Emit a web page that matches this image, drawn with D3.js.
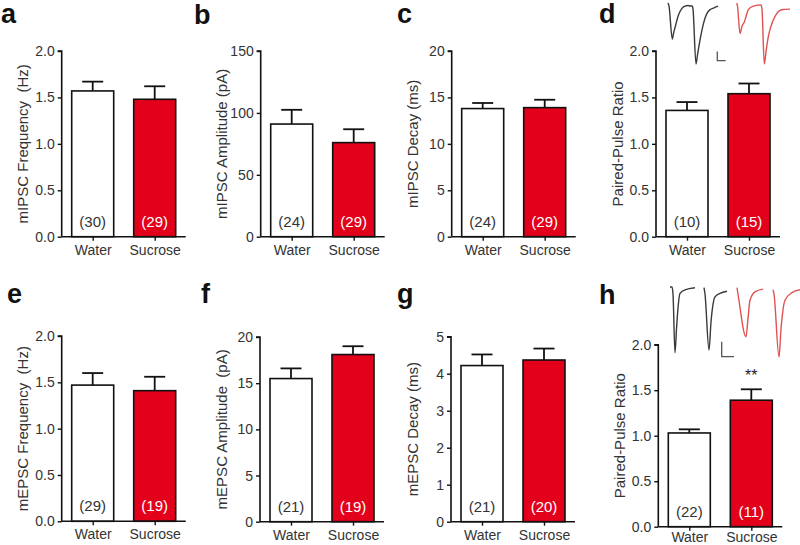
<!DOCTYPE html>
<html><head><meta charset="utf-8">
<script src="https://cdn.jsdelivr.net/npm/d3@7"></script>
<style>body{margin:0;background:#fff}svg{display:block}text{font-family:Arial,"Liberation Sans",sans-serif;white-space:pre}</style>
</head><body>
<svg id="c" width="800" height="545"></svg>
<script>
// ---------- data ----------
const groups = ["Water", "Sucrose"];
const panelLabels = ["a", "b", "c", "d", "e", "f", "g", "h"];
const yTitles = ["mIPSC Frequency  (Hz)", "mIPSC Amplitude (pA)", "mIPSC Decay (ms)", "Paired-Pulse Ratio",
                 "mEPSC Frequency  (Hz)", "mEPSC Amplitude  (pA)", "mEPSC Decay (ms)", "Paired-Pulse Ratio"];
const means = [[1.57, 1.48], [91, 76], [13.8, 13.9], [1.36, 1.54],
               [1.47, 1.41], [15.5, 18.1], [4.22, 4.37], [1.03, 1.39]];
const sems  = [[0.10, 0.14], [11.5, 10.8], [0.6, 0.85], [0.09, 0.11],
               [0.13, 0.15], [1.1, 0.9], [0.30, 0.31], [0.04, 0.12]];
const nCells = [[30, 29], [24, 29], [24, 29], [10, 15], [29, 19], [21, 19], [21, 20], [22, 11]];
const yMax = [2, 150, 20, 2, 2, 20, 5, 2];
const yTicks = [[0, 0.5, 1, 1.5, 2], [0, 50, 100, 150], [0, 5, 10, 15, 20], [0, 0.5, 1, 1.5, 2],
                [0, 0.5, 1, 1.5, 2], [0, 5, 10, 15, 20], [0, 1, 2, 3, 4, 5], [0, 0.5, 1, 1.5, 2]];
const tickDecimals = [1, 0, 0, 1, 1, 0, 0, 1];
const significance = [["", ""], ["", ""], ["", ""], ["", ""], ["", ""], ["", ""], ["", ""], ["", "**"]];

// example traces: [time (a.u.), normalized current]
const traceD_water = [[2,0],[3,-0.05],[6.3,-0.59],[7.5,-0.5],[9.7,-0.36],[12,-0.22],[14,-0.14],[17,-0.07],[19,-0.05],[22,-0.04],
  [24,-0.05],[26.3,-0.05],[27,-0.1],[30,-1.0],[31.5,-0.85],[34,-0.61],[36,-0.44],[39,-0.25],[41,-0.17],[44,-0.11],[48,-0.08],[52,-0.05]];
const traceD_sucrose = [[70.7,0],[71.5,-0.05],[74,-0.5],[76,-0.38],[78.3,-0.31],[80,-0.22],[82.3,-0.11],[87.3,-0.05],
  [95,-0.03],[96,-0.1],[98.3,-1.0],[100,-0.8],[102.3,-0.55],[105,-0.38],[109,-0.22],[115.7,-0.11],[124,-0.1]];
const traceH_water1 = [[0,0],[2,0],[3,-0.1],[5,-0.94],[6.5,-0.6],[8,-0.3],[10,-0.09],[15,-0.04],[25,-0.01]];
const traceH_water2 = [[34,-0.01],[35,-0.1],[39,-0.9],[41,-0.5],[45,-0.14],[50,-0.09],[57,-0.06]];
const traceH_sucrose1 = [[67,-0.01],[68,-0.1],[76,-0.71],[78,-0.45],[80,-0.19],[85,-0.07],[93,-0.03]];
const traceH_sucrose2 = [[103,-0.04],[104,-0.1],[109,-1.0],[111,-0.6],[115,-0.19],[122,-0.08],[130,-0.04]];
const scaleBarD = {t0: 51.3, a0: -0.946, dt: 8.4, da: 0.15};
const scaleBarH = {t0: 51.7, a0: -0.996, dt: 12.3, da: 0.214};

// ---------- layout ----------
const RED = "#e2001a";
const layout = [
  {ax: 61.7, top: 51, bot: 236.7, lx: 1, ly: 23, xp: 4},
  {ax: 260.7, top: 51, bot: 236.7, lx: 194, ly: 23.5, xp: 4},
  {ax: 451.7, top: 51, bot: 236.7, lx: 397, ly: 23, xp: 4},
  {ax: 656, top: 51, bot: 236.7, lx: 599, ly: 23, xp: 4},
  {ax: 61.7, top: 336, bot: 521.3, lx: 7, ly: 303, xp: 4},
  {ax: 260, top: 337, bot: 521.7, lx: 201, ly: 303, xp: 4},
  {ax: 451, top: 336.7, bot: 521.7, lx: 397, ly: 303, xp: 4},
  {ax: 658.3, top: 344.7, bot: 526.7, lx: 599, ly: 304, xp: 1}
];

const svg = d3.select("#c");

layout.forEach((L, i) => {
  const g = svg.append("g");
  const x = d3.scalePoint().domain(groups).range([L.ax, L.ax + 124]).padding(0.5);
  const y = d3.scaleLinear().domain([0, yMax[i]]).range([L.bot, L.top]);
  const bw = 42;

  groups.forEach((grp, j) => {
    const m = means[i][j], s = sems[i][j], cx = x(grp);
    g.append("line").attr("x1", cx).attr("x2", cx).attr("y1", y(m)).attr("y2", y(m + s))
      .attr("stroke", "#111").attr("stroke-width", 1.8);
    g.append("line").attr("x1", cx - 10.5).attr("x2", cx + 10.5).attr("y1", y(m + s)).attr("y2", y(m + s))
      .attr("stroke", "#111").attr("stroke-width", 1.8);
    g.append("rect").attr("x", cx - bw / 2).attr("y", y(m)).attr("width", bw).attr("height", y(0) - y(m))
      .attr("fill", j === 0 ? "#fff" : RED).attr("stroke", "#111").attr("stroke-width", 1.6);
    g.append("text").attr("x", cx).attr("y", y(0) - 10).attr("text-anchor", "middle")
      .attr("font-size", 15).attr("fill", j === 0 ? "#333" : "#fff").text("(" + nCells[i][j] + ")");
    if (significance[i][j]) {
      g.append("text").attr("x", cx).attr("y", y(m + s) - 8).attr("text-anchor", "middle")
        .attr("font-size", 16).attr("fill", "#222").text(significance[i][j]);
    }
  });

  const yAxis = d3.axisLeft(y).tickValues(yTicks[i]).tickSize(4).tickPadding(3)
    .tickFormat(d3.format("." + tickDecimals[i] + "f"));
  const ya = g.append("g").attr("transform", `translate(${L.ax},0)`).call(yAxis);
  ya.select(".domain").attr("stroke", "#111").attr("stroke-width", 1.6).attr("d", `M-4,${L.top}H0V${L.bot}`);
  ya.selectAll(".tick line").attr("stroke", "#111").attr("stroke-width", 1.4);
  ya.selectAll(".tick text").attr("font-size", 14).attr("fill", "#333").attr("font-family", "Arial, 'Liberation Sans', sans-serif");

  const xAxis = d3.axisBottom(x).tickSize(4).tickPadding(L.xp);
  const xa = g.append("g").attr("transform", `translate(0,${L.bot})`).call(xAxis);
  xa.select(".domain").attr("stroke", "#111").attr("stroke-width", 1.6).attr("d", `M${L.ax},0H${L.ax + 124}`);
  xa.selectAll(".tick line").attr("stroke", "#111").attr("stroke-width", 1.4);
  xa.selectAll(".tick text").attr("font-size", 14).attr("fill", "#333").attr("font-family", "Arial, 'Liberation Sans', sans-serif");

  g.append("text").attr("transform", `translate(${L.ax - 39},${(L.top + L.bot) / 2}) rotate(-90)`)
    .attr("text-anchor", "middle").attr("dominant-baseline", "central").attr("xml:space", "preserve")
    .attr("font-size", 15).attr("fill", "#333").text(yTitles[i]);

  g.append("text").attr("x", L.lx).attr("y", L.ly).attr("font-size", 27).attr("font-weight", "bold")
    .attr("fill", "#111").text(panelLabels[i]);
});

// ---------- insets ----------
function drawInset(traces, bar, xr, yr, tdom) {
  const tx = d3.scaleLinear().domain(tdom).range(xr);
  const ty = d3.scaleLinear().domain([0, -1]).range(yr);
  const line = d3.line().x(d => tx(d[0])).y(d => ty(d[1])).curve(d3.curveMonotoneX);
  traces.forEach(([data, col]) => {
    svg.append("path").attr("d", line(data)).attr("fill", "none").attr("stroke", col)
      .attr("stroke-width", 1.4).attr("stroke-linejoin", "round");
  });
  svg.append("path")
    .attr("d", `M${tx(bar.t0)},${ty(bar.a0 + bar.da)}V${ty(bar.a0)}H${tx(bar.t0 + bar.dt)}`)
    .attr("fill", "none").attr("stroke", "#555").attr("stroke-width", 1.3);
}
const BLK = "#3a3a3a", LRED = "#e05252";
drawInset([[traceD_water, BLK], [traceD_sucrose, LRED]], scaleBarD, [666, 791], [3, 64], [0, 125]);
drawInset([[traceH_water1, BLK], [traceH_water2, BLK], [traceH_sucrose1, LRED], [traceH_sucrose2, LRED]],
  scaleBarH, [670, 800], [287, 357], [0, 130]);
</script>
</body></html>
